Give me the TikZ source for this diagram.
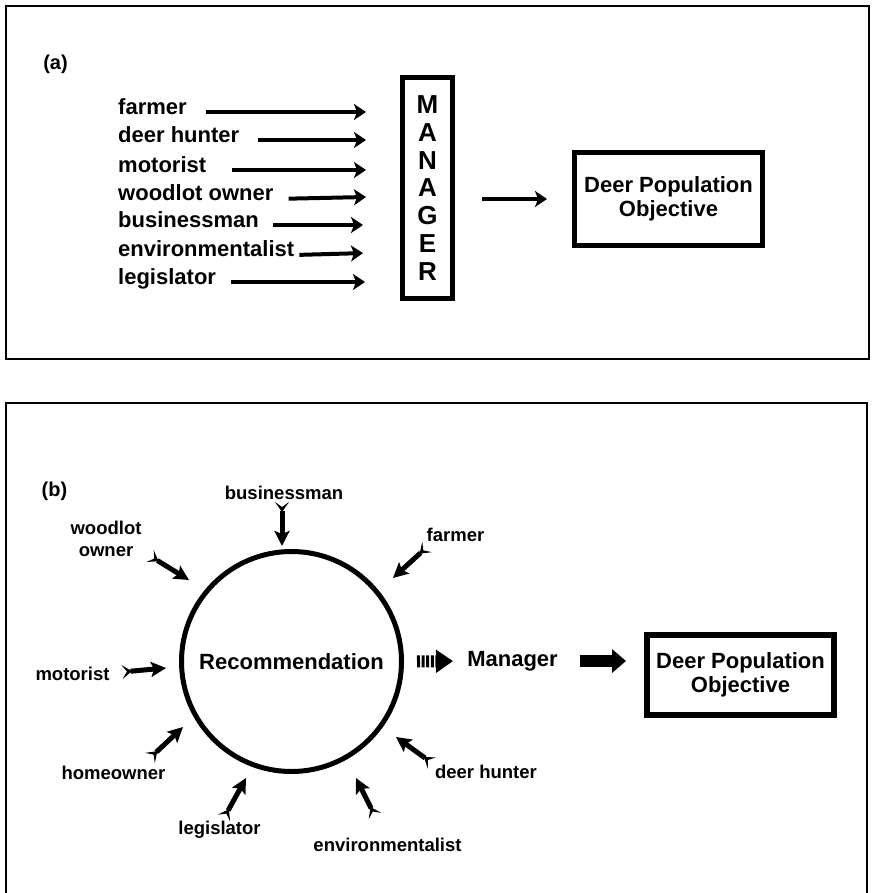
\documentclass[tikz,border=0pt]{standalone}
\usepackage{fontspec}
\setmainfont{Liberation Sans}
\usetikzlibrary{arrows.meta}
\begin{document}
\begin{tikzpicture}[x=1pt,y=-1pt,
  frame/.style={line width=2.2pt},
  tag/.style={inner sep=0pt, font=\bfseries\fontsize{20}{22}\selectfont},
  lblA/.style={anchor=west, inner sep=0pt, text height=1ex, text depth=0pt,
    font=\bfseries\fontsize{22}{24}\selectfont},
  arrA/.style={line width=4pt, -{Stealth[length=12pt,width=16pt,inset=3pt]}},
  lblB/.style={inner sep=0pt, align=center, font=\bfseries\fontsize{18.5}{22}\selectfont},
  arrB/.style={line width=5pt,
    {Stealth[reversed,length=10pt,width=14pt,inset=5pt]}-{Stealth[length=15pt,width=15pt,inset=3pt]}},
  objbox/.style={draw, line width=5pt, align=center, inner sep=0pt,
    font=\bfseries\fontsize{22}{24.5}\selectfont},
  bigtext/.style={inner sep=0pt, font=\bfseries\fontsize{22}{24}\selectfont}]
\useasboundingbox (0,0) rectangle (871,893);

% ---------- panel (a) ----------
\draw[frame] (6,6) rectangle (869,359);
\node[tag] (taga) at (55.5,64) {(a)};

\node[draw, line width=5pt, minimum width=50pt, minimum height=220pt, inner sep=0pt,
      align=center, font=\bfseries\fontsize{26}{27.7}\selectfont] (mgr) at (427.5,188)
      {M\\A\\N\\A\\G\\E\\R};
\node[objbox, minimum width=188pt, minimum height=93pt] (obja) at (668.5,199)
      {Deer Population\\Objective};

\node[lblA] (a1) at (118,112) {farmer};
\node[lblA] (a2) at (118,140) {deer hunter};
\node[lblA] (a3) at (118,170) {motorist};
\node[lblA] (a4) at (118,198) {woodlot owner};
\node[lblA] (a5) at (118,225) {businessman};
\node[lblA] (a6) at (118,254) {environmentalist};
\node[lblA] (a7) at (118,282) {legislator};

\coordinate (tipA) at (366,0);
\draw[arrA, shorten <=19pt] (a1.east) -- (a1.east -| tipA);
\draw[arrA, shorten <=19pt] (a2.east) -- (a2.east -| tipA);
\draw[arrA, shorten <=26pt] (a3.east) -- (a3.east -| tipA);
\draw[arrA, shorten <=15pt] ([yshift=-1pt]a4.east) -- ([yshift=1pt]a4.east -| tipA);
\draw[arrA, shorten <=14pt, shorten >=3pt] (a5.east) -- (a5.east -| tipA);
\draw[arrA, shorten <=5pt, shorten >=3pt] ([yshift=-1pt]a6.east) -- ([yshift=1pt]a6.east -| tipA);
\draw[arrA, shorten <=15pt, shorten >=1pt] (a7.east) -- (a7.east -| tipA);

\draw[arrA, shorten <=27pt, shorten >=25pt] (mgr.east |- obja.west) -- (obja.west);

% ---------- panel (b) ----------
\draw[frame] (6,893) -- (6,403) -- (867,403) -- (867,893);
\node[tag] (tagb) at (54.5,491) {(b)};

\node[draw, circle, line width=5pt, minimum size=220pt, inner sep=0pt,
      font=\bfseries\fontsize{22}{24}\selectfont] (rec) at (291.5,661.5) {Recommendation};
\node[bigtext] (mgrb) at (512.5,661) {Manager};
\node[objbox, line width=6pt, minimum width=187pt, minimum height=80pt] (objb) at (740.5,675)
      {Deer Population\\Objective};

% hatched arrow from the circle to the manager
\draw[line width=12pt, dash pattern=on 3pt off 1.6pt,
      -{Triangle[length=17pt,width=22pt]}, shorten <=13pt, shorten >=14pt]
      (rec.east) -- (mgrb.west);
% solid heavy arrow from the manager to the objective
\draw[line width=12pt, -{Triangle[length=14pt,width=23pt]}, shorten <=22pt, shorten >=18pt]
      (mgrb.east) -- (objb.west |- mgrb.east);

\node[lblB] (b1) at (284,493) {businessman};
\node[lblB] (b2) at (106,539) {woodlot\\owner};
\node[lblB] (b3) at (455.5,535) {farmer};
\node[lblB] (b4) at (72.5,674) {motorist};
\node[lblB] (b5) at (113.5,773) {homeowner};
\node[lblB] (b6) at (219.5,830) {legislator};
\node[lblB] (b7) at (387.5,845) {environmentalist};
\node[lblB] (b8) at (486,772) {deer hunter};

\coordinate (t1) at (282,502); \coordinate (h1) at (282,546);
\coordinate (t2) at (150,556); \coordinate (h2) at (189,580);
\coordinate (t3) at (427,547); \coordinate (h3) at (393,578);
\coordinate (t4) at (122,672); \coordinate (h4) at (166,668);
\coordinate (t5) at (150,758); \coordinate (h5) at (183,727);
\coordinate (t6) at (224,818); \coordinate (h6) at (246,778);
\coordinate (t7) at (375,816); \coordinate (h7) at (356,778);
\coordinate (t8) at (432,763); \coordinate (h8) at (396,737);
\foreach \i in {1,...,8} \draw[arrB] (t\i) -- (h\i);
\end{tikzpicture}
\end{document}
